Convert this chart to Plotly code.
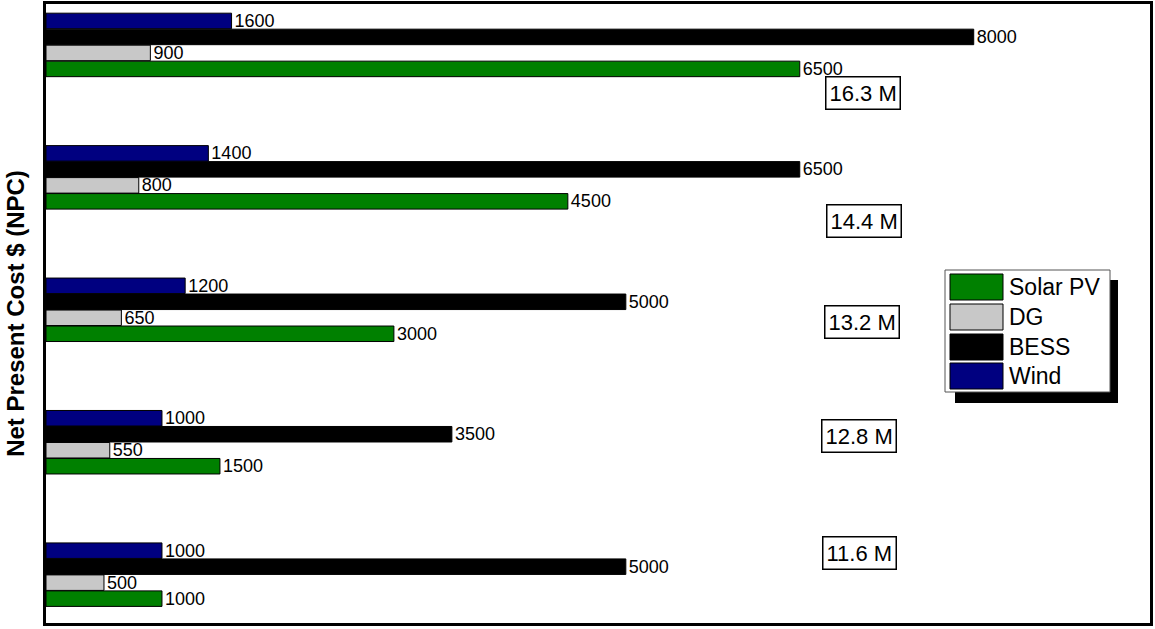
import plotly.graph_objects as go

# scenarios, bottom to top, labelled by their total NPC
npc_labels = ["11.6 M", "12.8 M", "13.2 M", "14.4 M", "16.3 M"]

series_names = ["Solar PV", "DG", "BESS", "Wind"]
solar_pv = [1000, 1500, 3000, 4500, 6500]
dg = [500, 550, 650, 800, 900]
bess = [5000, 3500, 5000, 6500, 8000]
wind = [1000, 1000, 1200, 1400, 1600]
series_values = [solar_pv, dg, bess, wind]
series_colors = ["#008000", "#c8c8c8", "#000000", "#000080"]

# where the NPC boxes sit (x in data units, y relative to the scenario row)
npc_box_x = [7013, 7013, 7039, 7052, 7047]
npc_box_dy = [0.16, 0.05, -0.09, -0.33, -0.363]

FONT = "Arial, Liberation Sans, sans-serif"
W, H = 1155, 629
ML, MR, MT, MB = 46, 5, 4, 6


def px(x):
    return (x - ML) / (W - ML - MR)


def py(y):
    return (H - MB - y) / (H - MT - MB)


fig = go.Figure()
for name, vals, col in zip(series_names, series_values, series_colors):
    fig.add_trace(go.Bar(
        y=npc_labels, x=vals, name=name, orientation="h",
        marker=dict(color=col, line=dict(color="black", width=1)),
        text=[str(v) for v in vals], textposition="outside",
        textfont=dict(size=18, color="black", family=FONT),
        cliponaxis=False, constraintext="none",
    ))

annotations = []
for i, lab in enumerate(npc_labels):
    annotations.append(dict(
        x=npc_box_x[i], y=i + npc_box_dy[i], xref="x", yref="y",
        text=lab, showarrow=False, font=dict(size=22, color="black", family=FONT),
        bgcolor="white", bordercolor="black", borderwidth=1.5, borderpad=3,
    ))

# hand-drawn legend with drop shadow
shapes = [
    dict(type="rect", xref="paper", yref="paper", x0=px(955), x1=px(1118),
         y0=py(403), y1=py(280), fillcolor="black", line=dict(width=0)),
    dict(type="rect", xref="paper", yref="paper", x0=px(945), x1=px(1110),
         y0=py(392), y1=py(270), fillcolor="white", line=dict(color="#555", width=1)),
]
row_tops = [274, 304, 334, 363]
for name, col, top in zip(series_names, series_colors, row_tops):
    shapes.append(dict(type="rect", xref="paper", yref="paper", x0=px(950), x1=px(1003),
                       y0=py(top + 26), y1=py(top), fillcolor=col,
                       line=dict(color="black", width=1)))
    annotations.append(dict(x=px(1007), y=py(top + 13), xref="paper", yref="paper",
                            text=name, showarrow=False, xanchor="left", yanchor="middle",
                            font=dict(size=23, color="black", family=FONT)))

fig.update_layout(
    width=W, height=H,
    margin=dict(l=ML, r=MR, t=MT, b=MB, autoexpand=False),
    barmode="group", bargap=0.517, bargroupgap=0.03,
    plot_bgcolor="white", paper_bgcolor="white",
    showlegend=False,
    font=dict(family=FONT, color="black"),
    xaxis=dict(range=[0, 9520], showgrid=False, zeroline=False, showticklabels=False,
               ticks="", showline=True, linecolor="black", linewidth=2.5, mirror=True),
    yaxis=dict(range=[-0.365, 4.309], showgrid=False, showticklabels=False, ticks="",
               showline=True, linecolor="black", linewidth=2.5, mirror=True,
               automargin=False,
               title=dict(text="<b>Net Present Cost $ (NPC)</b>", standoff=12,
                          font=dict(size=24, family=FONT, color="black"))),
    shapes=shapes,
    annotations=annotations,
)

# drop the browser's default page margin so the figure sits at the window corner
fig.write_html("out.html", config={"displayModeBar": False},
               post_script="document.body.style.margin='0';")
